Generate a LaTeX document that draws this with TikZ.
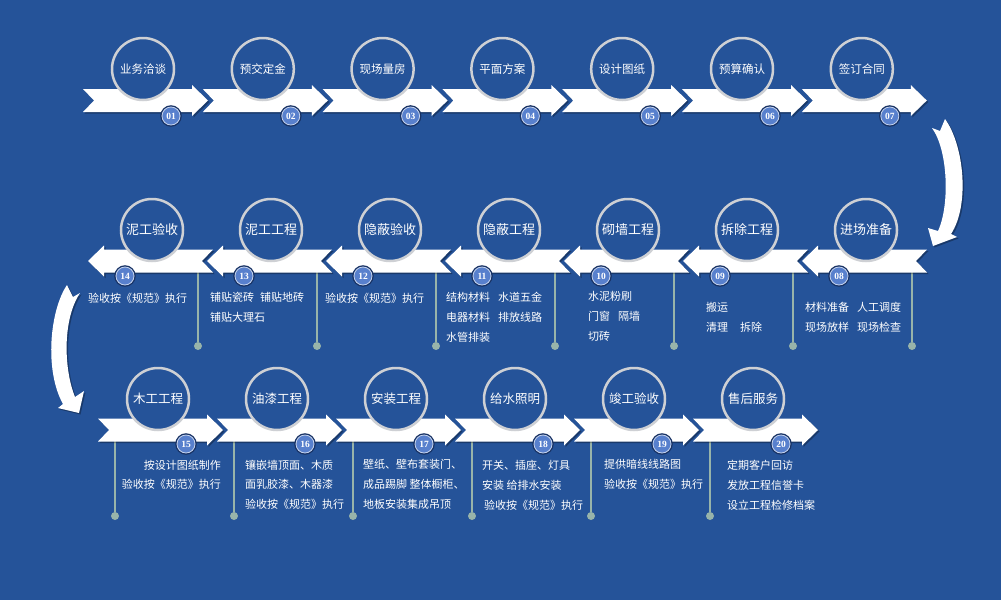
\documentclass[tikz,border=0pt]{standalone}
\usepackage{fontspec}
\setmainfont{Noto Sans CJK SC}
\newfontfamily\numfont{Liberation Serif}
\definecolor{bgblue}{RGB}{37,83,153}
\definecolor{ringgray}{RGB}{206,208,212}
\definecolor{badgeblue}{RGB}{88,128,205}
\definecolor{haloblue}{RGB}{24,50,100}
\definecolor{stemgreen}{RGB}{152,180,170}
\newcommand{\chevR}[2]{(#1,#2-11.5) -- ++(109,0) -- ++(0,-4) -- ++(16,15.5) -- ++(-16,15.5) -- ++(0,-4) -- ++(-109,0) -- ++(11,-11.5) -- cycle}
\newcommand{\chevL}[2]{(#1,#2) -- ++(16,-15.5) -- ++(0,4) -- ++(109,0) -- ++(-11,11.5) -- ++(11,11.5) -- ++(-109,0) -- ++(0,4) -- cycle}
\newcommand{\gap}{\hspace{8pt}}

\begin{document}
\begin{tikzpicture}[x=1pt, y=-1pt,
  ring/.style={circle, draw=ringgray, line width=2.5pt, fill=bgblue, minimum size=62pt, inner sep=0pt, text=white},
  badge/.style={circle, fill=badgeblue, draw=white!65!badgeblue, line width=0.8pt, minimum size=18pt, inner sep=0pt,
    preaction={draw=haloblue, line width=3.5pt}, text=white, font=\numfont\bfseries\fontsize{9.5}{9.5}\selectfont},
  desc/.style={text=white, align=left, inner sep=0pt, anchor=north west, font=\fontsize{11}{20}\selectfont},
  stem/.style={draw=stemgreen, line width=1.8pt},
  stemdot/.style={circle, fill=stemgreen, minimum size=8pt, inner sep=0pt},
  chevshadow/.style={fill=black, opacity=.3}]
  \useasboundingbox (0,0) rectangle (1001,600);
  \fill[bgblue] (0,0) rectangle (1001,600);
  \foreach \k/\lab [evaluate=\k as \L using 83+119.8*(\k-1)] in
      {1/业务洽谈,2/预交定金,3/现场量房,4/平面方案,5/设计图纸,6/预算确认,7/签订合同}{
    \fill[chevshadow] \chevR{\L+1.5}{102};
    \fill[white] \chevR{\L}{100.5};
    \node[ring, font=\fontsize{11.5}{12}\selectfont] (c0\k) at (\L+60,69) {\lab};
    \node[badge] (b0\k) at (\L+88,116) {0\k};
  }
  \foreach \k/\n/\lab [evaluate=\k as \T using 88+119*\k] in
      {0/14/泥工验收,1/13/泥工工程,2/12/隐蔽验收,3/11/隐蔽工程,4/10/砌墙工程,5/09/拆除工程,6/08/进场准备}{
    \coordinate (s\n) at (\T+110,272);
    \node[stemdot] (d\n) at (\T+110,346) {};
    \draw[stem] (s\n) -- (d\n);
    \fill[chevshadow] \chevL{\T+1.5}{262.5};
    \fill[white] \chevL{\T}{261};
    \node[ring, font=\fontsize{13}{13}\selectfont] (c\n) at (\T+64,230) {\lab};
    \node[badge] (b\n) at (\T+37,276) {\n};
  }
  \foreach \k/\n/\lab [evaluate=\k as \L using 98+119*\k] in
      {0/15/木工工程,1/16/油漆工程,2/17/安装工程,3/18/给水照明,4/19/竣工验收,5/20/售后服务}{
    \coordinate (s\n) at (\L+17,441);
    \node[stemdot] (d\n) at (\L+17,516) {};
    \draw[stem] (s\n) -- (d\n);
    \fill[chevshadow] \chevR{\L+1.5}{431.5};
    \fill[white] \chevR{\L}{430};
    \node[ring, font=\fontsize{12.5}{13}\selectfont] (c\n) at (\L+60,399) {\lab};
    \node[badge] (b\n) at (\L+88,444) {\n};
  }
  \fill[chevshadow, shift={(1.5,1.5)}] (945,119) .. controls (964,145) and (970,205) .. (951,234) -- (957,237) -- (933,246) -- (928,228) -- (938,231) .. controls (950,205) and (948,150) .. (932,128) -- (940,131) -- cycle;
  \fill[white] (945,119) .. controls (964,145) and (970,205) .. (951,234) -- (957,237) -- (933,246) -- (928,228) -- (938,231) .. controls (950,205) and (948,150) .. (932,128) -- (940,131) -- cycle;
  \fill[chevshadow, shift={(1.5,1.5)}] (67,285) .. controls (50,310) and (44,370) .. (63,404) -- (58,408) -- (79,413) -- (84,391) -- (75,397) .. controls (64,370) and (62,320) .. (80,293) -- (73,297) -- cycle;
  \fill[white] (67,285) .. controls (50,310) and (44,370) .. (63,404) -- (58,408) -- (79,413) -- (84,391) -- (75,397) .. controls (64,370) and (62,320) .. (80,293) -- (73,297) -- cycle;
  \node[desc] (t14) at (88,292.5) {验收按《规范》执行};
  \node[desc] (t13) at (210,292.5) {铺贴瓷砖\hspace{6pt}铺贴地砖\\铺贴大理石};
  \node[desc] (t12) at (325,292.5) {验收按《规范》执行};
  \node[desc] (t11) at (446,291.5) {结构材料\gap 水道五金\\电器材料\gap 排放线路\\水管排装};
  \node[desc] (t10) at (588,291.5) {水泥粉刷\\门窗\gap 隔墙\\切砖};
  \node[desc] (t09) at (706,301.5) {搬运\\清理\hspace{12pt}拆除};
  \node[desc] (t08) at (805,301.5) {材料准备\gap 人工调度\\现场放样\gap 现场检查};
  \node[desc, align=right, anchor=north east, font=\fontsize{11}{19}\selectfont] (t15) at (221,459.5) {按设计图纸制作\\验收按《规范》执行};
  \node[desc, font=\fontsize{11}{19.5}\selectfont] (t16) at (245,459.5) {镶嵌墙顶面、木质\\面乳胶漆、木器漆\\验收按《规范》执行};
  \node[desc] (t17) at (363,459.5) {壁纸、壁布套装门、\\成品踢脚 整体橱柜、\\地板安装集成吊顶};
  \node[desc] (t18) at (482,459.5) {开关、插座、灯具\\安装 给排水安装\\\hspace{2pt}验收按《规范》执行};
  \node[desc] (t19) at (604,459.5) {提供暗线线路图\\验收按《规范》执行};
  \node[desc] (t20) at (727,459.5) {定期客户回访\\发放工程信誉卡\\设立工程检修档案};
\end{tikzpicture}
\end{document}
